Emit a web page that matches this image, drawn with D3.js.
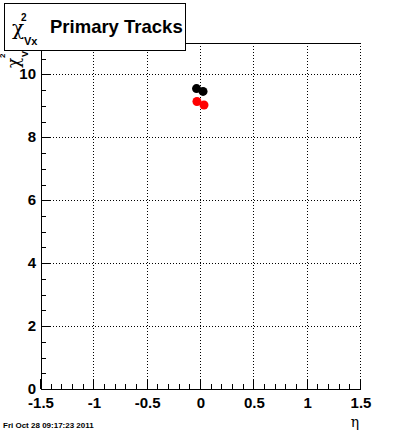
<!DOCTYPE html>
<html>
<head>
<meta charset="utf-8">
<script src="https://cdn.jsdelivr.net/npm/d3@7"></script>
<style>
  body { margin: 0; background: #fff; }
  svg { font-family: "Liberation Sans", Arial, sans-serif; }
</style>
</head>
<body>
<div id="graphArea"></div>
<script>
// chi2 of primary vertex vs eta, two sets
var blackEta = [-0.042, 0.019]
var blackChi = [9.55, 9.46]
var redEta = [-0.038, 0.028]
var redChi = [9.14, 9.03]
var xTicks = [-1.5, -1, -0.5, 0, 0.5, 1, 1.5]
var yTicks = [0, 2, 4, 6, 8, 10]

var width = 400
var height = 433
var padL = 41, padR = 361, padT = 43, padB = 389

var svg = d3.select("#graphArea").append("svg")
  .attr("width", width)
  .attr("height", height)

svg.append("rect").attr("width", width).attr("height", height).attr("fill", "#fff")

var x = d3.scaleLinear().domain([-1.5, 1.5]).range([padL, padR])
var y = d3.scaleLinear().domain([0, 11]).range([padB, padT])

// grid
var grid = svg.append("g")
  .attr("stroke", "#000")
  .attr("stroke-width", 1)
  .attr("stroke-dasharray", "1,2")
xTicks.slice(1).forEach(function(t) {
  grid.append("line")
    .attr("x1", Math.round(x(t)) - 0.5).attr("x2", Math.round(x(t)) - 0.5)
    .attr("y1", padB).attr("y2", padT)
})
yTicks.slice(1).forEach(function(t) {
  grid.append("line")
    .attr("x1", padL).attr("x2", padR)
    .attr("y1", Math.round(y(t)) + 0.5).attr("y2", Math.round(y(t)) + 0.5)
})

// frame: top, left, bottom solid
svg.append("path")
  .attr("d", "M" + padR + "," + (padT + 0.5) + "H" + (padL + 0.5) + "V" + (padB + 0.5) + "H" + padR)
  .attr("fill", "none").attr("stroke", "#000").attr("stroke-width", 1)

// x axis ticks
var xMinor = d3.range(-15, 16).map(function(d) { return d / 10 })
svg.append("g").selectAll("line")
  .data(xMinor)
  .enter().append("line")
    .attr("x1", function(d) { return Math.round(x(d)) - 0.5 })
    .attr("x2", function(d) { return Math.round(x(d)) - 0.5 })
    .attr("y1", padB)
    .attr("y2", function(d) { return Math.abs(d * 2 - Math.round(d * 2)) < 1e-6 ? padB - 10 : padB - 5 })
    .attr("stroke", "#000")

var yMinor = d3.range(0, 23).map(function(d) { return d / 2 })
svg.append("g").selectAll("line")
  .data(yMinor)
  .enter().append("line")
    .attr("y1", function(d) { return Math.round(y(d)) + 0.5 })
    .attr("y2", function(d) { return Math.round(y(d)) + 0.5 })
    .attr("x1", padL)
    .attr("x2", function(d) { return d % 2 == 0 ? padL + 10 : padL + 5 })
    .attr("stroke", "#000")

// tick labels
svg.append("g").selectAll("text")
  .data(xTicks)
  .enter().append("text")
    .attr("x", function(d) { return x(d) })
    .attr("y", 408)
    .attr("text-anchor", "middle")
    .attr("font-size", 15)
    .attr("font-weight", "bold")
    .text(function(d) { return d })

svg.append("g").selectAll("text")
  .data(yTicks)
  .enter().append("text")
    .attr("x", 36)
    .attr("y", function(d) { return y(d) + 5 })
    .attr("text-anchor", "end")
    .attr("font-size", 15)
    .attr("font-weight", "bold")
    .text(function(d) { return d })

// markers
svg.append("g").selectAll("circle")
  .data(blackEta.map(function(d, i) { return [d, blackChi[i]] }))
  .enter().append("circle")
    .attr("cx", function(d) { return x(d[0]) })
    .attr("cy", function(d) { return y(d[1]) })
    .attr("r", 4.5)
    .attr("fill", "#000")

svg.append("g").selectAll("circle")
  .data(redEta.map(function(d, i) { return [d, redChi[i]] }))
  .enter().append("circle")
    .attr("cx", function(d) { return x(d[0]) })
    .attr("cy", function(d) { return y(d[1]) })
    .attr("r", 4.5)
    .attr("fill", "#f00")

// y axis title (rotated, partly under the title box)
var yt = svg.append("g").attr("transform", "translate(18.5,67) rotate(-90)")
yt.append("text").attr("x", -1).attr("y", 0)
  .attr("font-size", 17).attr("font-family", "'DejaVu Serif', serif").text("\u03c7")
yt.append("text").attr("x", 9).attr("y", -13.5)
  .attr("font-size", 8).attr("font-weight", "bold").text("2")
yt.append("text").attr("x", 10).attr("y", 9)
  .attr("font-size", 9).attr("font-weight", "bold").text("Vx")

// title box
svg.append("rect")
  .attr("x", 4.5).attr("y", 3.5).attr("width", 181).attr("height", 47)
  .attr("fill", "#fff").attr("stroke", "#000")
svg.append("text")
  .attr("x", 12).attr("y", 35)
  .attr("font-size", 20)
  .attr("font-family", "'DejaVu Serif', serif")
  .text("\u03c7")
svg.append("text")
  .attr("x", 21).attr("y", 21)
  .attr("font-size", 10).attr("font-weight", "bold")
  .text("2")
svg.append("text")
  .attr("x", 24).attr("y", 45)
  .attr("font-size", 11).attr("font-weight", "bold")
  .text("Vx")
svg.append("text")
  .attr("x", 50).attr("y", 33)
  .attr("font-size", 18.5).attr("font-weight", "bold")
  .text("Primary Tracks")

// x axis title
svg.append("text")
  .attr("x", 355).attr("y", 427)
  .attr("text-anchor", "middle")
  .attr("font-size", 14)
  .attr("font-family", "'DejaVu Serif', serif")
  .text("\u03b7")

// date stamp
svg.append("text")
  .attr("x", 3).attr("y", 428)
  .attr("font-size", 8).attr("font-weight", "bold")
  .text("Fri Oct 28 09:17:23 2011")
</script>
</body>
</html>
